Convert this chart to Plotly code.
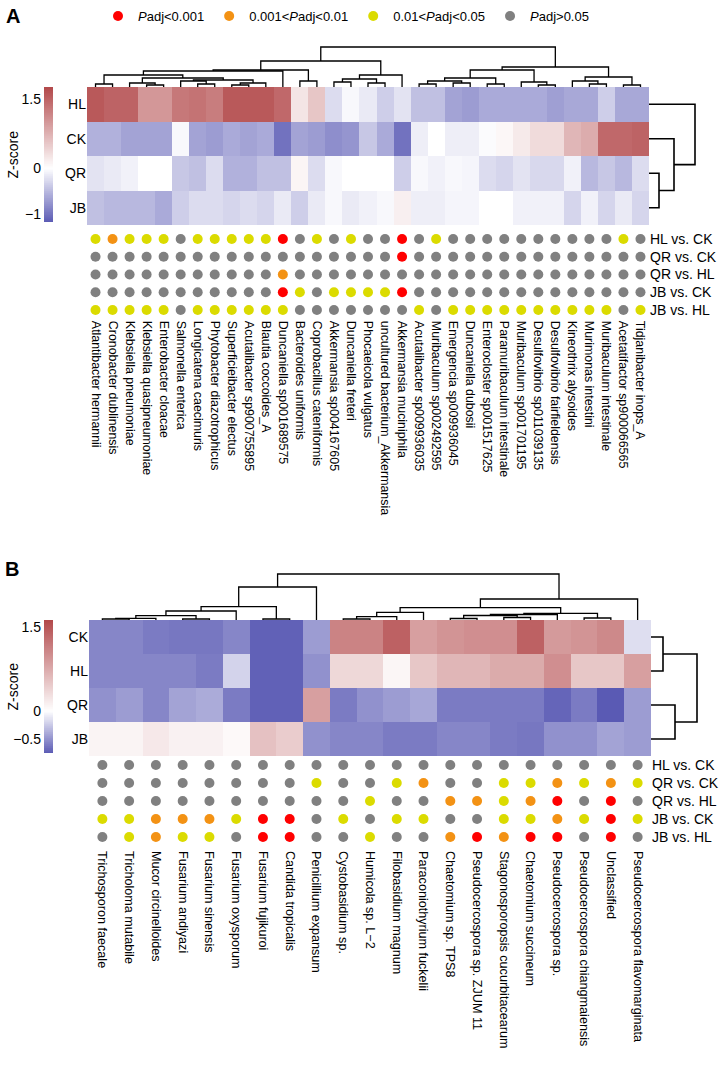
import numpy as np
import plotly.graph_objects as go

W, H = 720, 1072
FONT = "Arial, 'Liberation Sans', sans-serif"

# ---------------- data: panel A ----------------
taxa_A = ["Atlantibacter hermannii", "Cronobacter dublinensis", "Klebsiella pneumoniae",
          "Klebsiella quasipneumoniae", "Enterobacter cloacae", "Salmonella enterica",
          "Longicatena caecimuris", "Phytobacter diazotrophicus", "Superficieibacter electus",
          "Acutalibacter sp900755895", "Blautia coccoides_A", "Duncaniella sp001689575",
          "Bacteroides uniformis", "Coprobacillus cateniformis", "Akkermansia sp004167605",
          "Duncaniella freteri", "Phocaeicola vulgatus", "uncultured bacterium_Akkermansia",
          "Akkermansia muciniphila", "Acutalibacter sp009936035", "Muribaculum sp002492595",
          "Emergencia sp009936045", "Duncaniella dubosii", "Enterocloster sp001517625",
          "Paramuribaculum intestinale", "Muribaculum sp001701195", "Desulfovibrio sp011039135",
          "Desulfovibrio fairfieldensis", "Kineothrix alysoides", "Murimonas intestini",
          "Muribaculum intestinale", "Acetatifactor sp900066565", "Tidjanibacter inops_A"]
groups_A = ["HL", "CK", "QR", "JB"]
z_HL_A = [1.6, 1.5, 1.5, 1.0, 1.0, 1.3, 1.35, 1.25, 1.6, 1.6, 1.6, 1.45, 0.25, 0.55, -0.25, -0.05,
          -0.15, -0.35, -0.2, -0.45, -0.45, -0.65, -0.7, -0.6, -0.6, -0.6, -0.6, -0.68, -0.62,
          -0.62, -0.35, -0.62, -0.62]
z_CK_A = [-0.55, -0.55, -0.65, -0.65, -0.65, -0.05, -0.65, -0.7, -0.6, -0.65, -0.6, -1.0, -0.65,
          -0.7, -0.8, -0.75, -0.4, -0.6, -1.0, -0.12, 0.0, -0.12, -0.12, -0.03, 0.08, 0.2, 0.35,
          0.35, 0.7, 0.8, 1.45, 1.45, 1.5]
z_QR_A = [-0.2, -0.15, -0.1, 0.0, 0.0, -0.4, -0.45, -0.25, -0.55, -0.55, -0.45, -0.45, 0.1, -0.25,
          -0.05, 0.0, 0.0, 0.0, -0.35, -0.05, -0.1, -0.05, -0.07, -0.25, -0.3, -0.2, -0.28, -0.28,
          -0.1, -0.5, -0.4, -0.5, -0.25]
z_JB_A = [-0.45, -0.5, -0.5, -0.5, -0.6, -0.35, -0.25, -0.25, -0.3, -0.25, -0.3, -0.15, -0.35,
          -0.15, -0.05, -0.15, -0.1, -0.05, 0.15, -0.12, -0.12, -0.07, -0.07, 0.0, 0.0, -0.1, -0.1,
          -0.1, -0.3, -0.1, -0.3, -0.15, -0.3]
comparisons = ["HL vs. CK", "QR vs. CK", "QR vs. HL", "JB vs. CK", "JB vs. HL"]
# R: Padj<0.001, O: 0.001<Padj<0.01, Y: 0.01<Padj<0.05, G: Padj>0.05
sig_A = ["YOYYYGYYYYYRGYGYGGRGYGGGGGGGGGGYG",
         "GGGGGGGGGGGGGGGGGGRGGGGGGGGGGGGGG",
         "GGGGGGGGGGGOGGGGGGGGGGGGGGGGGGGGG",
         "GGGGGGGGGGGRYGYYYYRGGGGGGGGGGGGGG",
         "YYYYYGYYYYYYGGGGGGGYGYYYYYYYYYYGY"]
# dendrograms: [left, right, merge height]; leaves are column / row indices
col_tree_A = [[[[[[0, 1, 3], [[2, [3, 4, 2], 4], [[5, [6, 7, 3], 6], [[8, 9, 2], 10, 4], 7], 9], 12],
                 11, 16],
                [12, 13, 6], 17],
               [[[14, 15, 5], [16, 17, 4], 8], 18, 12], 26],
              [[[[[19, 20, 3], [21, 22, 4], 6], [23, 24, 3], 9], [25, [26, 27, 2], 5], 17],
               [[28, [29, 30, 3], 6], [31, 32, 2], 10], 20], 40]
row_tree_A = [0, [1, [2, 3, 1.0], 2.5], 4.6]
zrange_A = [-1.17, 1.76]
zticks_A = [1.5, 0, -1]

# ---------------- data: panel B ----------------
taxa_B = ["Trichosporon faecale", "Tricholoma mutabile", "Mucor circinelloides", "Fusarium andiyazi",
          "Fusarium sinensis", "Fusarium oxysporum", "Fusarium fujikuroi", "Candida tropicalis",
          "Penicillium expansum", "Cystobasidium sp.", "Humicola sp. L\u22122", "Filobasidium magnum",
          "Paraconiothyrium fuckelii", "Chaetomium sp. TPS8", "Pseudocercospora sp. ZJUM 11",
          "Stagonosporopsis cucurbitacearum", "Chaetomium succineum", "Pseudocercospora sp.",
          "Pseudocercospora chiangmaiensis", "Unclassified", "Pseudocercospora flavomarginata"]
groups_B = ["CK", "HL", "QR", "JB"]
z_CK_B = [-0.55, -0.55, -0.6, -0.62, -0.62, -0.55, -0.72, -0.72, -0.45, 1.1, 1.1, 1.4, 0.85, 0.95,
          1.0, 1.0, 1.4, 0.9, 0.95, 1.05, -0.15]
z_HL_B = [-0.55, -0.55, -0.55, -0.55, -0.6, -0.2, -0.72, -0.72, -0.5, 0.35, 0.35, 0.08, 0.5, 0.65,
          0.65, 0.75, 0.75, 1.0, 0.5, 0.5, 0.85]
z_QR_B = [-0.5, -0.45, -0.55, -0.42, -0.38, -0.6, -0.72, -0.72, 0.85, -0.6, -0.5, -0.45, -0.4, -0.6,
          -0.6, -0.6, -0.6, -0.7, -0.6, -0.75, -0.45]
z_JB_B = [0.1, 0.1, 0.2, 0.12, 0.12, 0.05, 0.55, 0.45, -0.5, -0.55, -0.55, -0.6, -0.6, -0.55, -0.55,
          -0.6, -0.62, -0.5, -0.5, -0.42, -0.45]
sig_B = ["GGGGGGGGGGGGGGGGGGGGG",
         "GGGGGGGGYGGYOGGYYOYOY",
         "GGGGGGGGGGYGGOOYORGRG",
         "YYOOOYRRGYGYYGGYYOYRY",
         "GYOYYGRRGGYGGORORRGRG"]
col_tree_B = [[[[[[[0, 1, 1], 2, 1.7], [3, 4, 1], 4.3], 5, 9], [6, 7, 1], 13.3], 8, 33],
              [[[[[9, 10, 1], 11, 3.3], 12, 7.7],
                [[[[13, 14, 1.5], [15, 16, 2.5], 4.5], 17, 5.5], [18, 19, 2], 6.7], 12.3], 20, 21], 46]
row_tree_B = [[0, 1, 1.2], [2, 3, 2.4], 4.6]
zrange_B = [-0.75, 1.625]
zticks_B = [1.5, 0, -0.5]

sig_names = {"R": "<i>P</i>adj&lt;0.001", "O": "0.001&lt;<i>P</i>adj&lt;0.01",
             "Y": "0.01&lt;<i>P</i>adj&lt;0.05", "G": "<i>P</i>adj&gt;0.05"}
sig_colors = {"R": "#ff0000", "O": "#f39214", "Y": "#dbdb00", "G": "#808080"}
LOW, HIGH = "rgb(90,90,180)", "rgb(178,72,74)"


# ---------------- helpers ----------------
def fx(px):
    return px / W


def fy(py):
    return 1 - py / H


def colorscale(zr):
    mid = (0 - zr[0]) / (zr[1] - zr[0])
    return [[0, LOW], [mid, "white"], [1, HIGH]]


def dendro(tree):
    pos, hgt = [], []

    def walk(node):
        if isinstance(node, int):
            return float(node), 0.0
        left, right, h = node
        xl, hl = walk(left)
        xr, hr = walk(right)
        pos.extend([xl, xl, xr, xr, None])
        hgt.extend([hl, h, h, hr, None])
        return (xl + xr) / 2, h

    walk(tree)
    return pos, hgt


fig = go.Figure()
layout = {}
annotations = []


def hidden_axis(domain, rng, anchor, **kw):
    d = dict(domain=domain, range=rng, anchor=anchor, showgrid=False, zeroline=False,
             showline=False, showticklabels=False, ticks="", fixedrange=True)
    d.update(kw)
    return d


def panel(k, taxa, groups, zrows, sig, col_tree, row_tree, zr, zticks, box, dots_y, dend_top,
          show_legend, label_size, label_standoff):
    L, R, T, B = box
    n, m = len(taxa), len(groups)
    ax = [k + i for i in range(5)]
    names = ["" if a == 1 else str(a) for a in ax]
    cs = colorscale(zr)
    # heatmap
    fig.add_trace(go.Heatmap(z=zrows, x=list(range(n)), y=list(range(m)), colorscale=cs,
                             zmin=zr[0], zmax=zr[1], showscale=False,
                             xaxis="x" + names[0], yaxis="y" + names[0], hoverinfo="skip"))
    layout["xaxis" + names[0]] = hidden_axis([fx(L), fx(R)], [-0.5, n - 0.5], "y" + names[0])
    layout["yaxis" + names[0]] = hidden_axis([fy(B), fy(T)], [m - 0.5, -0.5], "x" + names[0],
                                             showticklabels=True, tickvals=list(range(m)),
                                             ticktext=groups, tickfont=dict(size=14, color="black"))
    # significance dots
    dy0, dstep = dots_y
    for code in ["R", "O", "Y", "G"]:
        xs, ys = [], []
        for r, row in enumerate(sig):
            for c, ch in enumerate(row):
                if ch == code:
                    xs.append(c)
                    ys.append(r)
        fig.add_trace(go.Scatter(x=xs, y=ys, mode="markers", name=sig_names[code],
                                 marker=dict(size=10, color=sig_colors[code]),
                                 showlegend=show_legend, hoverinfo="skip",
                                 xaxis="x" + names[1], yaxis="y" + names[1]))
    nr = len(sig)
    layout["xaxis" + names[1]] = hidden_axis([fx(L), fx(R)], [-0.5, n - 0.5], "y" + names[1],
                                             showticklabels=True, tickvals=list(range(n)),
                                             ticktext=taxa, tickangle=90,
                                             ticklabelstandoff=label_standoff,
                                             tickfont=dict(size=label_size, color="black"))
    layout["yaxis" + names[1]] = hidden_axis([fy(dy0 + dstep * (nr - 0.5)), fy(dy0 - dstep * 0.5)],
                                             [nr - 0.5, -0.5], "x" + names[1], side="right",
                                             showticklabels=True, tickvals=list(range(nr)),
                                             ticktext=comparisons,
                                             tickfont=dict(size=14, color="black"))
    # column dendrogram
    p, h = dendro(col_tree)
    fig.add_trace(go.Scatter(x=p, y=h, mode="lines", line=dict(color="black", width=1.3),
                             showlegend=False, hoverinfo="skip",
                             xaxis="x" + names[2], yaxis="y" + names[2]))
    hmax = col_tree[2]
    layout["xaxis" + names[2]] = hidden_axis([fx(L), fx(R)], [-0.5, n - 0.5], "y" + names[2])
    layout["yaxis" + names[2]] = hidden_axis([fy(T), fy(dend_top)],
                                             [0, hmax * (T - dend_top) / (T - dend_top - 2)],
                                             "x" + names[2])
    # row dendrogram
    p, h = dendro(row_tree)
    fig.add_trace(go.Scatter(x=h, y=p, mode="lines", line=dict(color="black", width=1.6),
                             showlegend=False, hoverinfo="skip",
                             xaxis="x" + names[3], yaxis="y" + names[3]))
    layout["xaxis" + names[3]] = hidden_axis([fx(R), fx(R + 50)], [0, 5], "y" + names[3])
    layout["yaxis" + names[3]] = hidden_axis([fy(B), fy(T)], [m - 0.5, -0.5], "x" + names[3])
    # colour key
    vals = np.linspace(zr[0], zr[1], 200)
    fig.add_trace(go.Heatmap(z=[[v] for v in vals], x=[0], y=vals, colorscale=cs,
                             zmin=zr[0], zmax=zr[1], showscale=False, hoverinfo="skip",
                             xaxis="x" + names[4], yaxis="y" + names[4]))
    layout["xaxis" + names[4]] = hidden_axis([fx(44), fx(53)], [-0.5, 0.5], "y" + names[4])
    layout["yaxis" + names[4]] = hidden_axis([fy(B - 3), fy(T)], zr, "x" + names[4],
                                             showticklabels=True, tickvals=zticks,
                                             ticklabelstandoff=2,
                                             tickfont=dict(size=14, color="black"))
    annotations.append(dict(text="Z-score", textangle=-90, x=fx(12), y=fy((T + B - 3) / 2),
                            xref="paper", yref="paper", xanchor="center", yanchor="middle",
                            showarrow=False, font=dict(size=14, color="black")))


panel(1, taxa_A, groups_A, [z_HL_A, z_CK_A, z_QR_A, z_JB_A], sig_A, col_tree_A, row_tree_A,
      zrange_A, zticks_A, (87, 649, 87, 225), (239, 17.75), 45, True, 12.4, 1)
panel(6, taxa_B, groups_B, [z_CK_B, z_HL_B, z_QR_B, z_JB_B], sig_B, col_tree_B, row_tree_B,
      zrange_B, zticks_B, (89, 651, 620, 756), (765, 18), 572, False, 12.6, 4)

annotations += [
    dict(text="<b>A</b>", x=fx(4), y=fy(3), xref="paper", yref="paper", xanchor="left",
         yanchor="top", showarrow=False, font=dict(size=20, color="black")),
    dict(text="<b>B</b>", x=fx(3), y=fy(556), xref="paper", yref="paper", xanchor="left",
         yanchor="top", showarrow=False, font=dict(size=20, color="black")),
]

layout.update(
    width=W, height=H, autosize=False,
    margin=dict(l=0, r=0, t=0, b=0),
    paper_bgcolor="white", plot_bgcolor="white",
    font=dict(family=FONT, size=13, color="black"),
    legend=dict(orientation="h", x=fx(98), y=fy(1), xanchor="left", yanchor="top",
                font=dict(size=13, color="black"), itemwidth=30, bgcolor="rgba(0,0,0,0)"),
    annotations=annotations,
)
fig.update_layout(**layout)
fig.write_html("out.html", config={"displayModeBar": False, "staticPlot": True},
               post_script="document.body.style.margin='0';document.body.style.overflow='hidden';")
